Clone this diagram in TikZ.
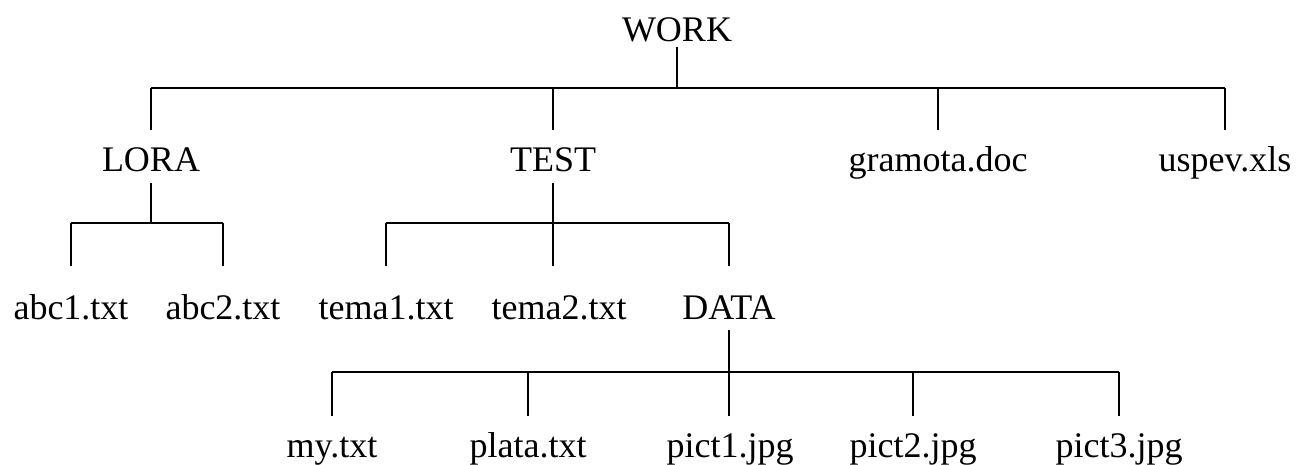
\documentclass[tikz,border=0pt]{standalone}
\usepackage{fontspec}
\setmainfont{Liberation Serif}
\usepackage{tikz}
\usetikzlibrary{positioning}
\tikzstyle{entry} = [font=\fontsize{36}{40}\selectfont, inner sep=0pt, text height=25pt, text depth=9pt, anchor=base]
\tikzstyle{branch} = [line width=1.8pt]

\begin{document}
\begin{tikzpicture}[x=1pt, y=-1pt]
    \useasboundingbox (0,0) rectangle (1298,465);
    % levels of the tree
    \coordinate (bus0) at (0,88);   \coordinate (drop0) at (0,130);
    \coordinate (bus1) at (0,223);  \coordinate (drop1) at (0,266);
    \coordinate (bus2) at (0,372);  \coordinate (drop2) at (0,416);

    \node (work) [entry] at (677,42) {WORK};
    \node (lora) [entry] at (151,172) {LORA};
    \node (test) [entry] at (553,172) {TEST};
    \node (gram) [entry] at (938,172) {gramota.doc};
    \node (uspev) [entry] at (1225,172) {uspev.xls};
    \node (abc1) [entry] at (71,319) {abc1.txt};
    \node (abc2) [entry] at (223,319) {abc2.txt};
    \node (tema1) [entry] at (386,319) {tema1.txt};
    \node (tema2) [entry] at (559,319) {tema2.txt};
    \node (data) [entry] at (729,319) {DATA};
    \node (my) [entry] at (332,457) {my.txt};
    \node (plata) [entry] at (528,457) {plata.txt};
    \node (pict1) [entry] at (730,457) {pict1.jpg};
    \node (pict2) [entry] at (913,457) {pict2.jpg};
    \node (pict3) [entry] at (1119,457) {pict3.jpg};

    % WORK
    \draw [branch] ([yshift=4pt]work.south) -- (work |- bus0);
    \draw [branch] (lora |- bus0) -- (uspev |- bus0);
    \foreach \n in {lora, test, gram, uspev}
        \draw [branch] (\n |- bus0) -- (\n |- drop0);
    % LORA
    \draw [branch] ([yshift=-2pt]lora.south) -- (lora |- bus1);
    \draw [branch] (abc1 |- bus1) -- (abc2 |- bus1);
    \foreach \n in {abc1, abc2}
        \draw [branch] (\n |- bus1) -- (\n |- drop1);
    % TEST
    \draw [branch] ([yshift=-2pt]test.south) -- (test |- drop1);
    \draw [branch] (tema1 |- bus1) -- (data |- bus1);
    \foreach \n in {tema1, data}
        \draw [branch] (\n |- bus1) -- (\n |- drop1);
    % DATA
    \draw [branch] ([yshift=-2pt]data.south) -- (data |- drop2);
    \draw [branch] (my |- bus2) -- (pict3 |- bus2);
    \foreach \n in {my, plata, pict2, pict3}
        \draw [branch] (\n |- bus2) -- (\n |- drop2);
\end{tikzpicture}
\end{document}
